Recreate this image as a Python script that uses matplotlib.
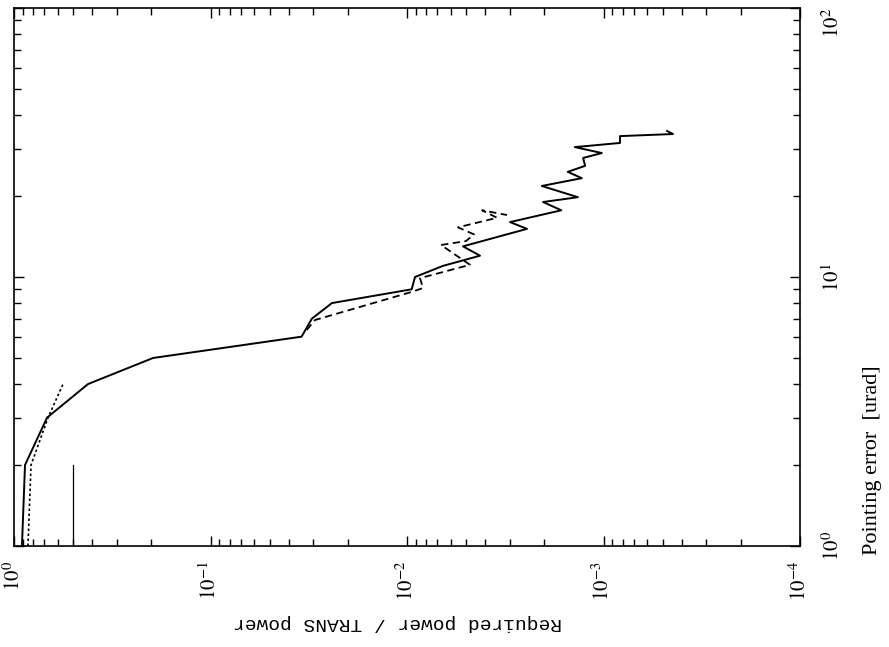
import matplotlib
matplotlib.use("Agg")
import matplotlib.pyplot as plt
from matplotlib.ticker import LogLocator, NullFormatter

plt.rcParams['mathtext.fontset'] = 'stix'
plt.rcParams['font.family'] = 'Liberation Serif'

# pointing error [urad] and required power ratio along each curve
pe_solid = [1.0, 2.0, 3.0, 4.0, 5.0, 6.0, 7.0, 8.0, 9.0, 10.0, 11.0, 12.0, 13.0,
            15.1, 16.0, 17.7, 19.0, 19.8, 21.8, 23.3, 24.6, 25.9, 27.7, 28.9,
            30.4, 31.5, 33.4, 34.0, 34.9]
p_solid = [0.911, 0.879, 0.679, 0.420, 0.196, 0.0344, 0.0305, 0.0241, 0.00947,
           0.0091, 0.00656, 0.00425, 0.00519, 0.00245, 0.00299, 0.00164,
           0.00203, 0.00135, 0.00206, 0.00129, 0.00152, 0.00124, 0.00127,
           0.00102, 0.0014, 0.000824, 0.000824, 0.000443, 0.000475]

pe_dash = [6.35, 6.92, 8.8, 9.1, 9.9, 11.1, 13.15, 13.6, 14.4, 15.3, 16.6, 17.7, 17.0]
p_dash = [0.0324, 0.0294, 0.00947, 0.00829, 0.00859, 0.00478, 0.00671, 0.00501,
          0.00456, 0.0055, 0.00348, 0.00415, 0.0031]

pe_dot = [1.0, 2.0, 3.0, 4.0]
p_dot = [0.849, 0.819, 0.671, 0.563]

pe_mark = [1.0, 2.0]
p_mark = [0.5, 0.5]

xticks = [1, 1e-1, 1e-2, 1e-3, 1e-4]
xticklabels = ['$10^{0}$', '$10^{-1}$', '$10^{-2}$', '$10^{-3}$', '$10^{-4}$']
yticks = [1, 10, 100]
yticklabels = ['$10^{0}$', '$10^{1}$', '$10^{2}$']

fig = plt.figure(figsize=(8.89, 6.47), dpi=100)
ax = fig.add_axes([14/889, 1-546/647, 786/889, 538/647])

ax.plot(p_solid, pe_solid, color='black', lw=1.4)
ax.plot(p_dash, pe_dash, color='black', lw=1.3, linestyle=(0, (4, 2.5)))
ax.plot(p_dot, pe_dot, color='black', lw=1.2, linestyle=(0, (1.5, 1.5)))
ax.plot(p_mark, pe_mark, color='black', lw=0.9)

ax.set_xscale('log')
ax.set_yscale('log')
ax.set_xlim(1, 1e-4)
ax.set_ylim(1, 100)

ax.set_xticks(xticks)
ax.set_xticklabels(xticklabels, rotation=90, fontsize=15)
ax.set_yticks(yticks)
ax.set_yticklabels(yticklabels, rotation=90, fontsize=15, va='center')
ax.xaxis.set_minor_locator(LogLocator(base=10, subs=range(2, 10)))
ax.yaxis.set_minor_locator(LogLocator(base=10, subs=range(2, 10)))
ax.xaxis.set_minor_formatter(NullFormatter())
ax.yaxis.set_minor_formatter(NullFormatter())

ax.tick_params(which='both', direction='in', top=True, bottom=True,
               left=True, right=True, labelleft=False, labelright=True,
               width=1.0, color='black')
ax.tick_params(axis='x', which='major', length=7, pad=11)
ax.tick_params(axis='y', which='major', length=7, pad=16)
ax.tick_params(which='minor', length=5)
for s in ax.spines.values():
    s.set_linewidth(1.2)

# right-hand labels live in label2; keep the top one inside the figure
ax.yaxis.get_major_ticks()[-1].label2.set_verticalalignment('top')

fig.text(398/889, 1-622/647, 'Required power / TRANS power', rotation=180,
         ha='center', va='center', family='Liberation Mono', fontsize=14)
fig.text(873/889, 1-460/647, 'Pointing error  [urad]', rotation=90,
         ha='center', va='center', fontsize=16)

fig.savefig('out.png', dpi=100)
